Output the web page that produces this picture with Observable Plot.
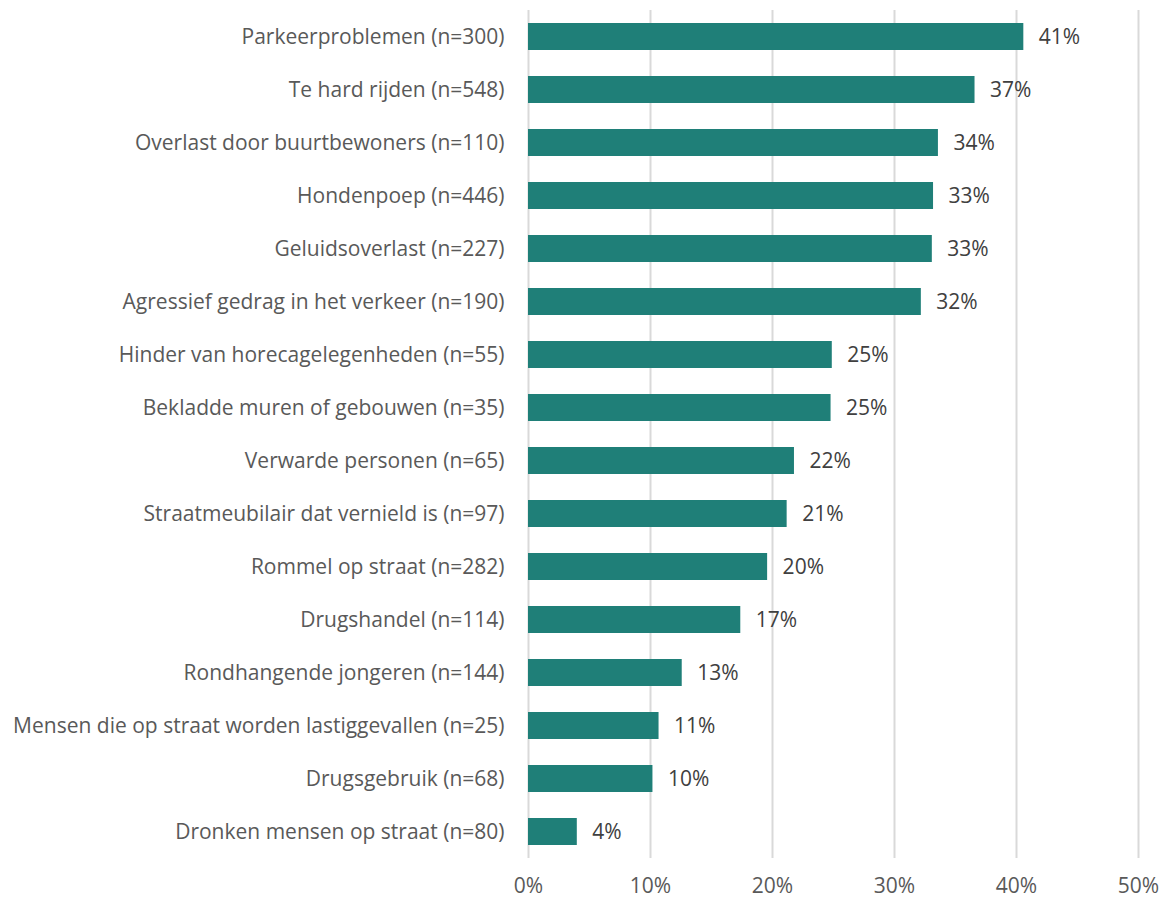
<!DOCTYPE html>
<html>
<head>
<meta charset="utf-8">
<script src="https://cdn.jsdelivr.net/npm/d3@7"></script>
<script src="https://cdn.jsdelivr.net/npm/@observablehq/plot@0.6"></script>
<style>
  html, body { margin: 0; padding: 0; background: #fff; }
  #chart svg { display: block; }
</style>
</head>
<body>
<div id="chart"></div>
<script>
const categories = [
  "Parkeerproblemen (n=300)",
  "Te hard rijden (n=548)",
  "Overlast door buurtbewoners (n=110)",
  "Hondenpoep (n=446)",
  "Geluidsoverlast (n=227)",
  "Agressief gedrag in het verkeer (n=190)",
  "Hinder van horecagelegenheden (n=55)",
  "Bekladde muren of gebouwen (n=35)",
  "Verwarde personen (n=65)",
  "Straatmeubilair dat vernield is (n=97)",
  "Rommel op straat (n=282)",
  "Drugshandel (n=114)",
  "Rondhangende jongeren (n=144)",
  "Mensen die op straat worden lastiggevallen (n=25)",
  "Drugsgebruik (n=68)",
  "Dronken mensen op straat (n=80)"
];
const values = [40.6, 36.6, 33.6, 33.2, 33.1, 32.2, 24.9, 24.8, 21.8, 21.2, 19.6, 17.4, 12.6, 10.7, 10.2, 4.0];
const xTicks = [0, 10, 20, 30, 40, 50];

const data = categories.map((c, i) => ({category: c, value: values[i]}));

const chart = Plot.plot({
  width: 1164,
  height: 899,
  marginLeft: 528,
  marginRight: 26,
  marginTop: 10,
  marginBottom: 41,
  style: {fontFamily: "'Open Sans', sans-serif", fontSize: "21px", color: "#595959", background: "#fff"},
  x: {domain: [0, 50], ticks: xTicks, tickFormat: d => d + "%", label: null},
  y: {domain: categories, paddingInner: 0.49, paddingOuter: 0.245, label: null},
  marks: [
    Plot.gridX(xTicks, {stroke: "#d9d9d9", strokeOpacity: 1, strokeWidth: 2}),
    Plot.barX(data, {x: "value", y: "category", fill: "#1f7f78"}),
    Plot.text(data, {x: "value", y: "category", text: d => d3.format(".0f")(d.value) + "%", textAnchor: "start", dx: 15, fill: "#404040", fontSize: 21}),
    Plot.axisY({tickSize: 0, tickPadding: 24, fontSize: 21, fill: "#595959"}),
    Plot.axisX({ticks: xTicks, tickFormat: d => d + "%", tickSize: 0, tickPadding: 20, fontSize: 21, fill: "#595959"})
  ]
});
document.getElementById("chart").appendChild(chart);
</script>
</body>
</html>
